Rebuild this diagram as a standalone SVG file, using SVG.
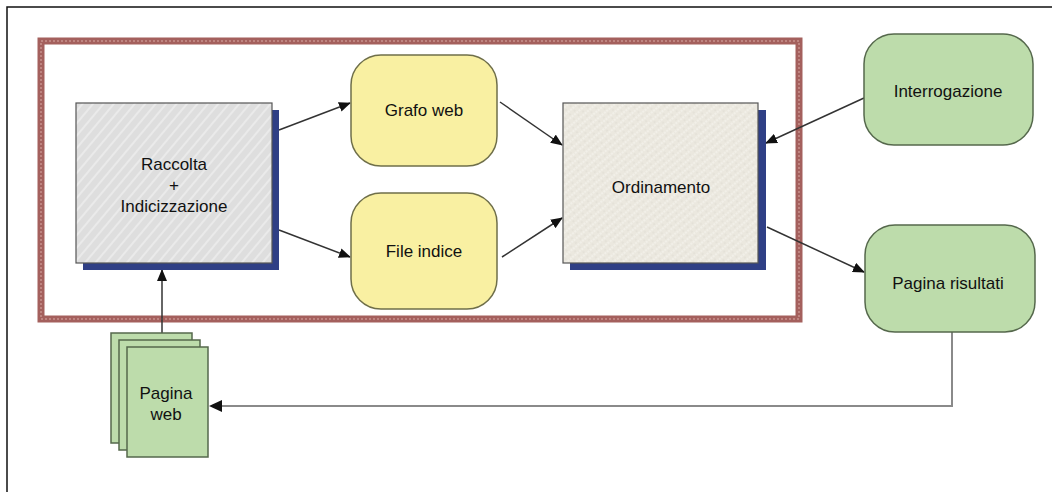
<svg xmlns="http://www.w3.org/2000/svg" width="1052" height="492" viewBox="0 0 1052 492">
<style>
.t{font-family:"Liberation Sans",Arial,sans-serif;font-size:17px;fill:#111;text-anchor:middle}
.conn{stroke:#333;stroke-width:1.5;fill:none}
.yel{fill:#f9f0a2;stroke:#6f6f4a;stroke-width:1.5}
.grn{fill:#bddcab;stroke:#55684c;stroke-width:1.5}
.shadow{fill:#2f3f85}
</style>
<defs>
<pattern id="hatch" width="8" height="8" patternUnits="userSpaceOnUse" patternTransform="rotate(-50)">
<rect width="8" height="8" fill="#dedede"/>
<line x1="0" y1="2" x2="8" y2="2" stroke="#efefef" stroke-width="1.5"/>
</pattern>
<pattern id="speck" width="6" height="6" patternUnits="userSpaceOnUse" patternTransform="rotate(-40)">
<rect width="6" height="6" fill="#ebe8df"/>
<line x1="0" y1="1" x2="6" y2="1" stroke="#f8f7f2" stroke-width="1" stroke-dasharray="2 1"/>
<circle cx="3" cy="4" r="0.6" fill="#d3d0c6"/>
</pattern>
<marker id="ah" viewBox="0 0 12 10" refX="11" refY="5" markerWidth="12" markerHeight="10" markerUnits="userSpaceOnUse" orient="auto">
<path d="M0,0 L12,5 L0,10 Z" fill="#111"/>
</marker>
</defs>
<rect width="1052" height="492" fill="#fff"/>
<path d="M7,492 V7 H1052" fill="none" stroke="#111" stroke-width="1.5"/>
<g id="system-boundary">
<rect x="41" y="41" width="758" height="278" fill="none" stroke="#a4605d" stroke-width="7"/>
<rect x="41" y="41" width="758" height="278" fill="none" stroke="#bf8581" stroke-width="2" stroke-dasharray="2 2"/>
</g>
<g id="connectors">
<path class="conn" d="M162,333 V270" marker-end="url(#ah)"/>
<path class="conn" d="M279,130 L350,103" marker-end="url(#ah)"/>
<path class="conn" d="M279,230 L350,257" marker-end="url(#ah)"/>
<path class="conn" d="M500,102 L562,145" marker-end="url(#ah)"/>
<path class="conn" d="M502,257 L562,218" marker-end="url(#ah)"/>
<path class="conn" d="M864,98 L766,143" marker-end="url(#ah)"/>
<path class="conn" d="M767,227 L864,272" marker-end="url(#ah)"/>
<path d="M952,332 V406 H218" fill="none" stroke="#8a8a8a" stroke-width="2"/>
<path d="M222,400 L209,406 L222,412 Z" fill="#111"/>
</g>
<g id="raccolta">
<rect class="shadow" x="83" y="110" width="196" height="160"/>
<rect x="76" y="103" width="196" height="160" fill="url(#hatch)" stroke="#555" stroke-width="1.2"/>
<text class="t" x="174" y="170">Raccolta</text>
<text class="t" x="174" y="191">+</text>
<text class="t" x="174" y="212">Indicizzazione</text>
</g>
<g id="grafo-web">
<rect class="yel" x="351" y="55" width="146" height="111" rx="30" ry="30"/>
<text class="t" x="424" y="116">Grafo web</text>
</g>
<g id="file-indice">
<rect class="yel" x="351" y="193" width="146" height="116" rx="30" ry="30"/>
<text class="t" x="424" y="257">File indice</text>
</g>
<g id="ordinamento">
<rect class="shadow" x="570" y="110" width="196" height="160"/>
<rect x="563" y="103" width="195" height="160" fill="url(#speck)" stroke="#555" stroke-width="1.2"/>
<text class="t" x="661" y="193">Ordinamento</text>
</g>
<g id="interrogazione">
<rect class="grn" x="864" y="34" width="169" height="111" rx="30" ry="30"/>
<text class="t" x="948" y="97">Interrogazione</text>
</g>
<g id="pagina-risultati">
<rect class="grn" x="865" y="225" width="170" height="107" rx="30" ry="30"/>
<text class="t" x="948" y="289">Pagina risultati</text>
</g>
<g id="pagina-web">
<rect class="grn" x="111" y="333" width="81" height="110"/>
<rect class="grn" x="119" y="340" width="81" height="110"/>
<rect class="grn" x="127" y="347" width="81" height="110"/>
<text class="t" x="166" y="399">Pagina</text>
<text class="t" x="166" y="420">web</text>
</g>
</svg>
